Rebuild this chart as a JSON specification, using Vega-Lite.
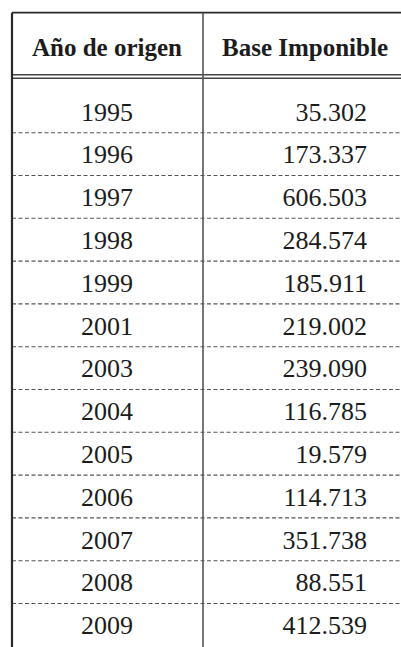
{
  "$schema": "https://vega.github.io/schema/vega-lite/v6.json",
  "width": 401,
  "height": 647,
  "padding": 0,
  "autosize": {"type": "none"},
  "background": "white",
  "config": {
    "view": {"stroke": null},
    "locale": {"number": {"decimal": ",", "thousands": ".", "grouping": [3], "currency": ["", " €"]}},
    "text": {"font": "Liberation Serif", "color": "#1c1c1c"}
  },
  "data": {
    "values": [
      {"year": "1995", "base": 35302},
      {"year": "1996", "base": 173337},
      {"year": "1997", "base": 606503},
      {"year": "1998", "base": 284574},
      {"year": "1999", "base": 185911},
      {"year": "2001", "base": 219002},
      {"year": "2003", "base": 239090},
      {"year": "2004", "base": 116785},
      {"year": "2005", "base": 19579},
      {"year": "2006", "base": 114713},
      {"year": "2007", "base": 351738},
      {"year": "2008", "base": 88551},
      {"year": "2009", "base": 412539}
    ]
  },
  "transform": [{"window": [{"op": "row_number", "as": "row"}]}],
  "resolve": {"scale": {"x": "shared", "y": "shared"}},
  "layer": [
    {
      "transform": [{"filter": "datum.row < 13"}],
      "mark": {"type": "rule", "strokeDash": [4, 2.5], "strokeWidth": 1.1, "color": "#555"},
      "encoding": {
        "x": {"datum": 0, "type": "quantitative", "scale": {"domain": [-0.0628, 2.0366], "nice": false, "zero": false}, "axis": null},
        "x2": {"datum": 2.0366},
        "y": {"field": "row", "type": "quantitative", "scale": {"domain": [-1.6285, 13.488], "nice": false, "zero": false, "reverse": true}, "axis": null},
        "yOffset": {"value": 20.2}
      }
    },
    {
      "mark": {"type": "text", "align": "center", "baseline": "middle", "fontSize": 26},
      "encoding": {
        "x": {"datum": 0.497, "type": "quantitative"},
        "y": {"field": "row", "type": "quantitative"},
        "text": {"field": "year"}
      }
    },
    {
      "mark": {"type": "text", "align": "right", "baseline": "middle", "fontSize": 26},
      "encoding": {
        "x": {"datum": 1.859, "type": "quantitative"},
        "y": {"field": "row", "type": "quantitative"},
        "text": {"field": "base", "type": "quantitative", "format": ",d"}
      }
    },
    {
      "data": {"values": [{"label": "Año de origen", "pos": "a"}]},
      "mark": {"type": "text", "align": "center", "baseline": "alphabetic", "fontSize": 25, "fontWeight": "bold"},
      "encoding": {
        "x": {"datum": 0.497, "type": "quantitative"},
        "y": {"datum": -0.32, "type": "quantitative"},
        "text": {"field": "label"}
      }
    },
    {
      "data": {"values": [{"label": "Base Imponible"}]},
      "mark": {"type": "text", "align": "center", "baseline": "alphabetic", "fontSize": 25, "fontWeight": "bold"},
      "encoding": {
        "x": {"datum": 1.534, "type": "quantitative"},
        "y": {"datum": -0.32, "type": "quantitative"},
        "text": {"field": "label"}
      }
    },
    {
      "data": {"values": [{"k": -1.332}]},
      "mark": {"type": "rule", "strokeWidth": 1.8, "color": "#2a2a2a"},
      "encoding": {
        "x": {"datum": 0, "type": "quantitative"},
        "x2": {"datum": 2.0366},
        "y": {"field": "k", "type": "quantitative"}
      }
    },
    {
      "data": {"values": [{"k": 0.117}, {"k": 0.201}]},
      "mark": {"type": "rule", "strokeWidth": 1.5, "color": "#444"},
      "encoding": {
        "x": {"datum": 0, "type": "quantitative"},
        "x2": {"datum": 2.0366},
        "y": {"field": "k", "type": "quantitative"}
      }
    },
    {
      "data": {"values": [{"c": 0, "w": "left"}]},
      "mark": {"type": "rule", "strokeWidth": 2.2, "color": "#2a2a2a"},
      "encoding": {
        "x": {"field": "c", "type": "quantitative"},
        "y": {"datum": -1.332, "type": "quantitative"},
        "y2": {"datum": 13.488}
      }
    },
    {
      "data": {"values": [{"c": 1, "w": "divider"}]},
      "mark": {"type": "rule", "strokeWidth": 1.6, "color": "#555"},
      "encoding": {
        "x": {"field": "c", "type": "quantitative"},
        "y": {"datum": -1.332, "type": "quantitative"},
        "y2": {"datum": 13.488}
      }
    }
  ]
}
